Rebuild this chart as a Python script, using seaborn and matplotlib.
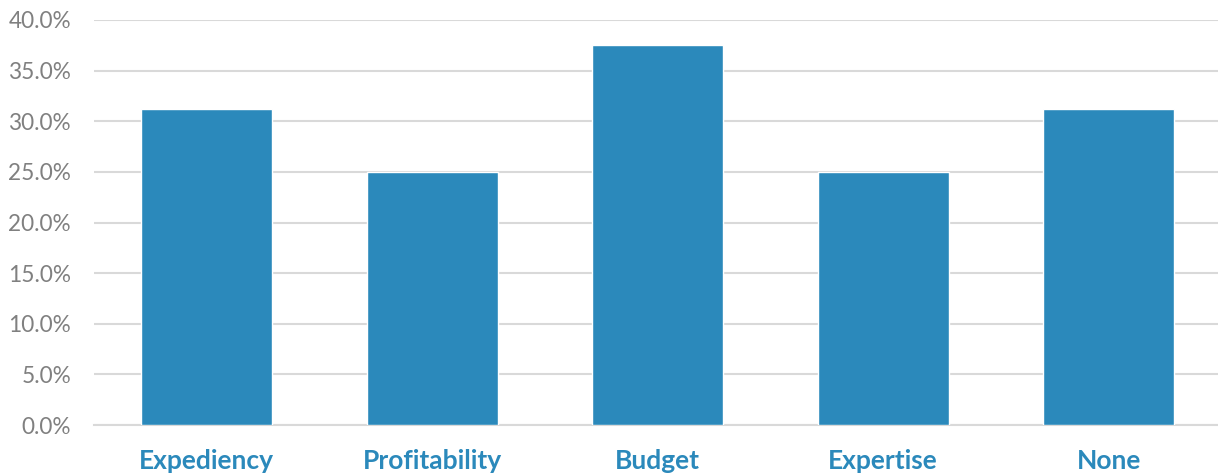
import matplotlib
matplotlib.use("Agg")
import matplotlib.pyplot as plt
import seaborn as sns
import pandas as pd
from matplotlib.ticker import PercentFormatter, MultipleLocator

categories = ["Expediency", "Profitability", "Budget", "Expertise", "None"]
shares = [31.25, 25.0, 37.5, 25.0, 31.25]

BAR = "#2b89bb"
GRID = "#d9d9d9"
TICK = "#808080"

sns.set_theme(style="white")
plt.rcParams["font.family"] = ["Lato", "DejaVu Sans"]

df = pd.DataFrame({"category": categories, "share": shares})

fig = plt.figure(figsize=(12.18, 4.75), dpi=100)
ax = fig.add_axes([94 / 1218, 50 / 475, (1218 - 94) / 1218, 405 / 475])

sns.barplot(data=df, x="category", y="share", color=BAR, saturation=1,
            width=0.58, ax=ax, zorder=3)

ax.set_ylim(0, 40)
ax.set_xlim(-0.5, 4.485)
ax.yaxis.set_major_locator(MultipleLocator(5))
ax.yaxis.set_major_formatter(PercentFormatter(decimals=1))
ax.grid(axis="y", color=GRID, linewidth=1.5, zorder=0)
ax.set_axisbelow(True)
for side in ["top", "right", "left"]:
    ax.spines[side].set_visible(False)
ax.spines["bottom"].set_color(GRID)
ax.spines["bottom"].set_linewidth(1.5)

ax.set_xlabel("")
ax.set_ylabel("")
ax.tick_params(axis="y", length=0, labelsize=16.3, labelcolor=TICK, pad=16.5)
ax.tick_params(axis="x", length=0, labelsize=19, labelcolor=BAR, pad=17.5)
for lbl in ax.get_xticklabels():
    lbl.set_fontweight("bold")

fig.savefig("out.png", dpi=100)
